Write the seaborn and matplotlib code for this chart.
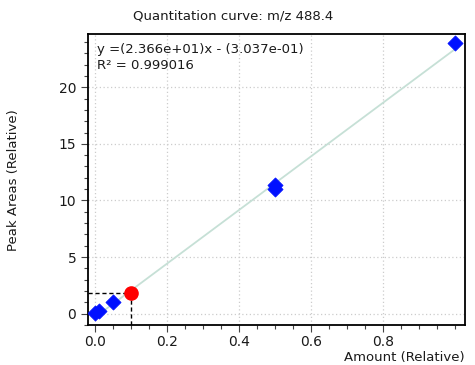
import matplotlib
matplotlib.use("Agg")
import matplotlib.pyplot as plt
from matplotlib.ticker import MultipleLocator
import numpy as np
import pandas as pd
import seaborn as sns

# calibration points (amount, peak area)
amounts = [0.0, 0.01, 0.05, 0.5, 0.5, 1.0]
areas = [0.1, 0.25, 1.0, 11.05, 11.35, 23.9]
sample_amount = 0.1
sample_area = 1.85
slope = 23.66
intercept = -0.3037
r_squared = 0.999016

sns.set_style("ticks")
plt.rcParams["font.family"] = ["DejaVu Sans"]
plt.rcParams["text.color"] = "#1a1a1a"
plt.rcParams["xtick.labelcolor"] = "#1a1a1a"
plt.rcParams["ytick.labelcolor"] = "#1a1a1a"

df = pd.DataFrame({"amount": amounts, "area": areas})

fig = plt.figure(figsize=(4.75, 3.65), dpi=100)
ax = fig.add_axes([88 / 475, 1 - 325 / 365, (465 - 88) / 475, (325 - 34) / 365])

fit_x = np.array([0.0, 1.0])
ax.plot(fit_x, slope * fit_x + intercept, color="#c6e0d6", lw=1.3, zorder=2)

sns.scatterplot(data=df, x="amount", y="area", marker="D", s=60, color="#0010ff",
                edgecolor="#0010ff", linewidth=0.5, ax=ax, zorder=3)
ax.scatter([sample_amount], [sample_area], marker="o", s=90, color="#ff0000",
           edgecolor="#ff0000", zorder=4)

xmin, xmax = -0.02, 1.028
ymin, ymax = -1.0, 24.7
ax.plot([xmin, sample_amount], [sample_area, sample_area], ls=(0, (3, 2)), color="black", lw=1, zorder=3)
ax.plot([sample_amount, sample_amount], [ymin, sample_area], ls=(0, (3, 2)), color="black", lw=1, zorder=3)

ax.set_xlim(xmin, xmax)
ax.set_ylim(ymin, ymax)
ax.xaxis.set_major_locator(MultipleLocator(0.2))
ax.xaxis.set_minor_locator(MultipleLocator(0.05))
ax.yaxis.set_major_locator(MultipleLocator(5))
ax.yaxis.set_minor_locator(MultipleLocator(1))
ax.set_xticks([0.0, 0.2, 0.4, 0.6, 0.8])
ax.grid(True, which="major", ls=(0, (1, 2)), color="#cccccc", lw=0.9)
ax.tick_params(which="major", length=5, width=0.8, labelsize=10, color="#444444")
ax.tick_params(axis="x", which="major", pad=2)
ax.tick_params(which="minor", length=3, width=0.8, color="#444444")
for sp in ax.spines.values():
    sp.set_visible(True)
    sp.set_linewidth(1.3)
    sp.set_color("black")

ax.set_xlabel("")
ax.set_ylabel("")
ax.text(0.025, 0.97, f"y =({slope:.3e})x - ({-intercept:.3e})\nR\u00b2 = {r_squared:.6f}",
        transform=ax.transAxes, ha="left", va="top", fontsize=9.5, linespacing=1.3)

fig.text(233 / 475, 1 - 16 / 365, "Quantitation curve: m/z 488.4", ha="center", va="center", fontsize=9.5)
fig.text(14 / 475, 1 - 180 / 365, "Peak Areas (Relative)", rotation=90, ha="center", va="center", fontsize=9.5)
fig.text(465 / 475, 1 - 357 / 365, "Amount (Relative)", ha="right", va="center", fontsize=9.5)

fig.savefig("out.png", dpi=100)
plt.close(fig)
